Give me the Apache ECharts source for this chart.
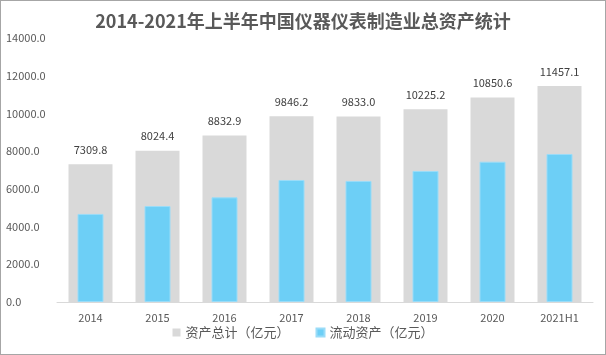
<!DOCTYPE html>
<html><head><meta charset="utf-8">
<script src="https://cdn.jsdelivr.net/npm/echarts@6/dist/echarts.min.js"></script>
<style>html,body{margin:0;padding:0;background:#fff}#c{width:604px;height:353px;border:1px solid #a6a6a6}</style>
</head><body><div id="c"></div>
<script>
const categories = ['2014','2015','2016','2017','2018','2019','2020','2021H1'];
const totalAssets = [7309.8, 8024.4, 8832.9, 9846.2, 9833.0, 10225.2, 10850.6, 11457.1];
const currentAssets = [4670, 5090, 5550, 6470, 6420, 6950, 7440, 7850];
const yTicks = [0, 2000, 4000, 6000, 8000, 10000, 12000, 14000];

const chart = echarts.init(document.getElementById('c'));
const font = '"Noto Sans CJK SC", "Liberation Sans", sans-serif';
chart.setOption({
  animation: false,
  title: {
    text: '2014-2021年上半年中国仪器仪表制造业总资产统计',
    left: 'center', top: 6,
    textStyle: {fontFamily: font, fontSize: 18, fontWeight: 'bold', color: '#595959'}
  },
  legend: {
    bottom: 10, left: 'center', itemWidth: 8, itemHeight: 8, itemGap: 26,
    icon: 'rect',
    textStyle: {fontFamily: font, fontSize: 13, color: '#595959'},
    data: ['资产总计（亿元）', '流动资产（亿元）']
  },
  grid: {left: 56, right: 12, top: 37, bottom: 52},
  xAxis: [{
    type: 'category', data: categories,
    axisLine: {lineStyle: {color: '#d9d9d9'}}, axisTick: {show: false},
    axisLabel: {fontFamily: font, fontSize: 11, color: '#595959', margin: 10}
  }, {
    type: 'category', data: categories, show: false
  }],
  yAxis: {
    type: 'value', min: yTicks[0], max: yTicks[yTicks.length-1], interval: 2000,
    splitLine: {show: false}, axisLine: {show: false}, axisTick: {show: false},
    axisLabel: {fontFamily: font, fontSize: 11, color: '#595959', align: 'left', margin: 51,
      formatter: v => v.toFixed(1)}
  },
  series: [{
    name: '资产总计（亿元）', type: 'bar', xAxisIndex: 0, data: totalAssets, barWidth: 44,
    itemStyle: {color: '#d9d9d9'},
    label: {show: true, position: 'top', distance: 9, fontFamily: font, fontSize: 11, color: '#404040',
      formatter: p => p.value.toFixed(1)}
  }, {
    name: '流动资产（亿元）', type: 'bar', xAxisIndex: 1, data: currentAssets, barWidth: 26,
    itemStyle: {color: '#6dcff6', borderColor: '#9adcf8', borderWidth: 1}
  }]
});
</script></body></html>
